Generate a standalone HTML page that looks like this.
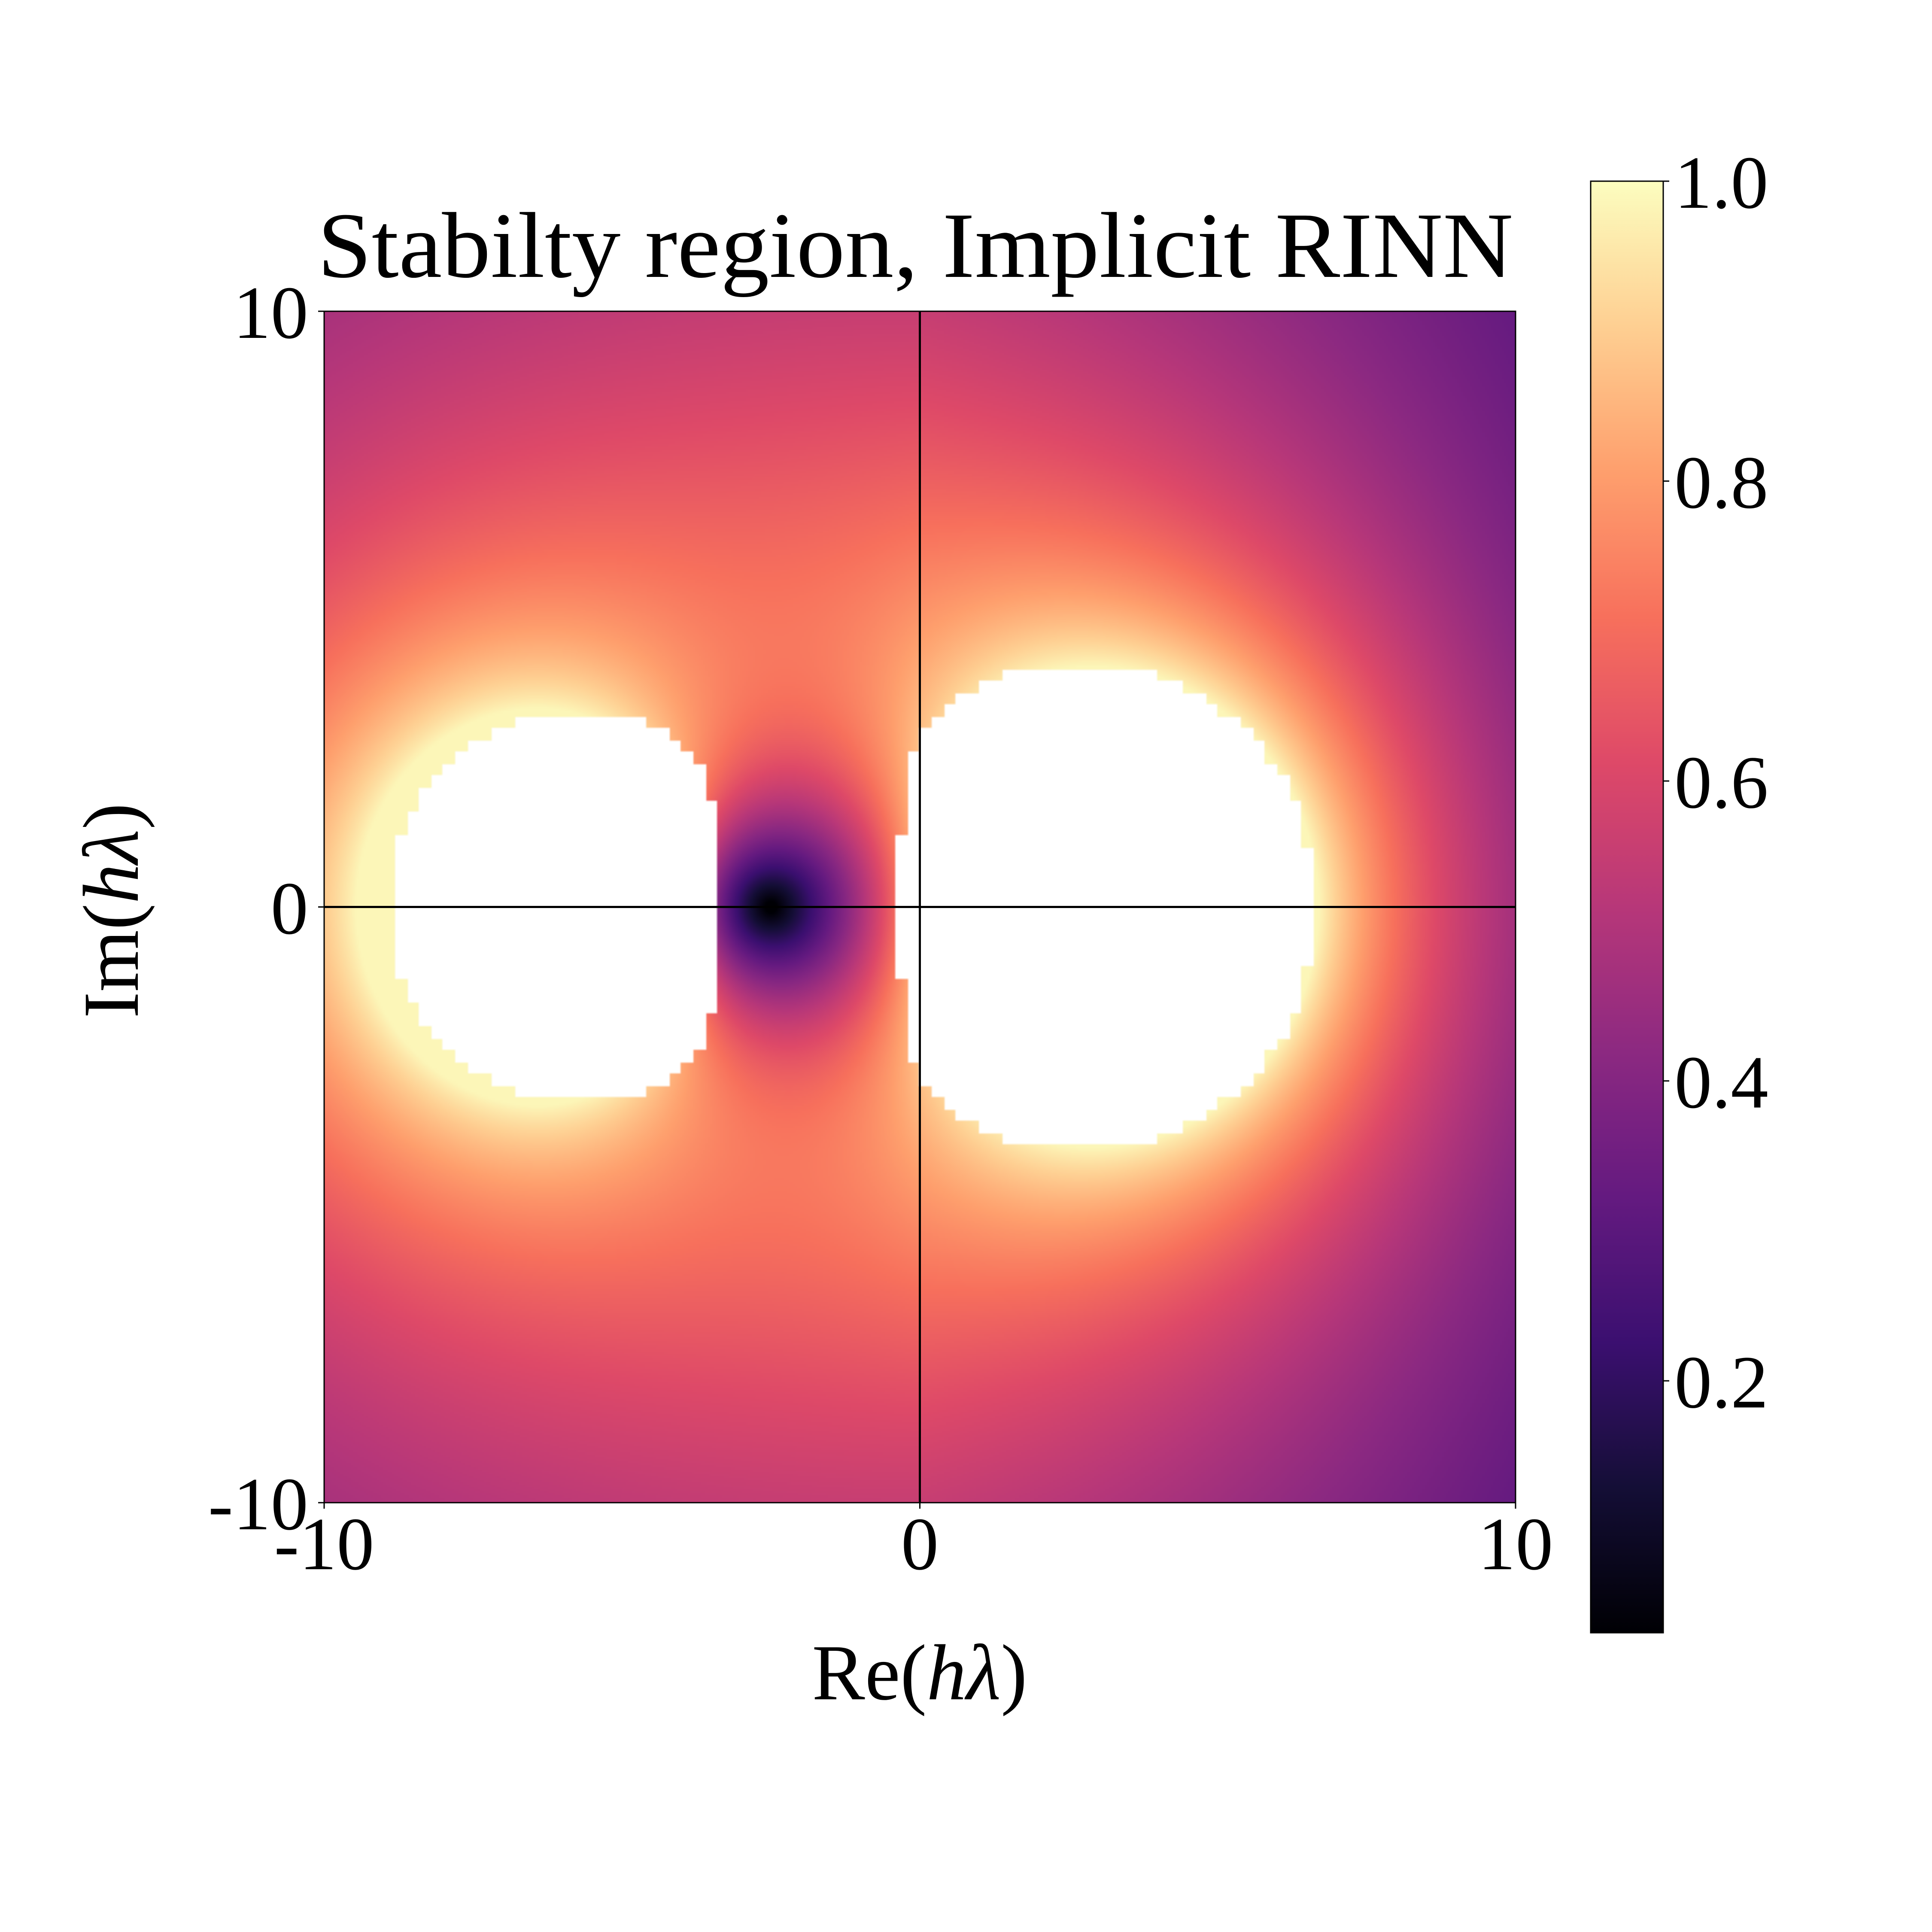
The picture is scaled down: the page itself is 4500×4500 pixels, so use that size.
<!DOCTYPE html>
<html><head><meta charset="utf-8"><style>
html,body{margin:0;padding:0;background:#fff;width:4500px;height:4500px;overflow:hidden}
#wrap{position:relative;width:4500px;height:4500px}
svg text{font-family:"Liberation Serif",serif;fill:#000}
#heat{position:absolute;left:755px;top:725px;width:2775px;height:2775px;image-rendering:auto}
#ov{position:absolute;left:0;top:0}
</style></head><body>
<div id="wrap">
<canvas id="heat" width="555" height="555"></canvas>
<svg id="ov" width="4500" height="4500">
<defs><linearGradient id="cbg" x1="0" y1="1" x2="0" y2="0"></linearGradient></defs>
<text x="2132" y="645" font-size="218" text-anchor="middle" textLength="2785" lengthAdjust="spacingAndGlyphs">Stabilty region, Implicit RINN</text>
<g id="axes"></g>
<text x="2142" y="3958" font-size="185" text-anchor="middle">Re(<tspan font-style="italic">hλ</tspan>)</text>
<text transform="translate(321,2121) rotate(-90)" font-size="185" text-anchor="middle">Im(<tspan font-style="italic">hλ</tspan>)</text>
<g id="cbar"></g>
</svg>
</div>
<script>
// ---- data ----
const xDomain = [-10, 10];
const yDomain = [-10, 10];
const gridStep = 0.2;
const xTicks = [-10, 0, 10];
const yTicks = [-10, 0, 10];
const xTickLabels = ["-10", "0", "10"];
const yTickLabels = ["-10", "0", "10"];
const cbTicks = [0.2, 0.4, 0.6, 0.8, 1.0];
const cbTickLabels = ["0.2", "0.4", "0.6", "0.8", "1.0"];
const cbRange = [0.032, 1.0];
// model of |R(z)|: zeros, poles, gain, left-half damping
const zeros = [[-2.5, 0], [30, 0]];
const poles = [[-5.7, 0], [3.1, 0]];
const gain = [0.205];
const leftDamping = [0.02];
// unstable (white) region: half-height per 0.2-wide column
const leftRegionStart = [-8.8];
const leftRegionHalfHeights = [1.2,1.6,2.0,2.2,2.4,2.6,2.8,2.8,3.0,3.0,3.2,3.2,3.2,3.2,3.2,3.2,3.2,3.2,3.2,3.2,3.2,3.0,3.0,2.8,2.6,2.4,1.8];
const rightRegionStart = [-0.4];
const rightRegionHalfHeights = [1.2,2.6,3.0,3.2,3.4,3.6,3.6,3.8,3.8,4.0,4.0,4.0,4.0,4.0,4.0,4.0,4.0,4.0,4.0,4.0,4.0,4.0,3.8,3.8,3.6,3.6,3.4,3.2,3.2,3.0,2.8,2.4,2.2,1.8,1.0];
const magmaStops = [0,0.1,0.2,0.3,0.4,0.5,0.6,0.7,0.8,0.9,1.0];
const magmaColors = ["#000004","#140e36","#3b0f70","#641a80","#8c2981","#b73779","#de4968","#f7705c","#fe9f6d","#fecf92","#fcfdbf"];

// ---- layout ----
const PX0 = 755, PX1 = 3530, PY0 = 725, PY1 = 3500;
const sx = v => PX0 + (v - xDomain[0]) / (xDomain[1] - xDomain[0]) * (PX1 - PX0);
const sy = v => PY1 - (v - yDomain[0]) / (yDomain[1] - yDomain[0]) * (PY1 - PY0);
const CBX0 = 3705, CBX1 = 3874, CBY0 = 422, CBY1 = 3803;
const cy = v => CBY1 - (v - cbRange[0]) / (cbRange[1] - cbRange[0]) * (CBY1 - CBY0);

function hex(c){return [parseInt(c.substr(1,2),16),parseInt(c.substr(3,2),16),parseInt(c.substr(5,2),16)];}
const mc = magmaColors.map(hex);
function magma(t){
  t = Math.max(0, Math.min(1, t));
  for (let i = 1; i < magmaStops.length; i++) {
    if (t <= magmaStops[i]) {
      const f = (t - magmaStops[i-1]) / (magmaStops[i] - magmaStops[i-1]);
      return mc[i-1].map((a, k) => Math.round(a + (mc[i][k] - a) * f));
    }
  }
  return mc[mc.length-1];
}
function absR(x, y){
  let v = gain[0] * Math.exp(leftDamping[0] * Math.min(x, 0));
  zeros.forEach(z => { v *= Math.hypot(x - z[0], y - z[1]); });
  poles.forEach(p => { v /= Math.hypot(x - p[0], y - p[1]); });
  return v;
}
function unstable(x, y){
  const regions = [[leftRegionStart[0], leftRegionHalfHeights],[rightRegionStart[0], rightRegionHalfHeights]];
  for (const [x0, hs] of regions) {
    const i = Math.floor((x - x0) / gridStep + 1e-9);
    if (i >= 0 && i < hs.length && Math.abs(y) < hs[i]) return true;
  }
  return false;
}

// ---- heatmap ----
const cv = document.getElementById('heat');
const ctx = cv.getContext('2d');
const N = cv.width;
const img = ctx.createImageData(N, N);
for (let j = 0; j < N; j++) {
  const y = yDomain[1] - (j + 0.5) / N * (yDomain[1] - yDomain[0]);
  for (let i = 0; i < N; i++) {
    const x = xDomain[0] + (i + 0.5) / N * (xDomain[1] - xDomain[0]);
    const k = (j * N + i) * 4;
    let c;
    if (unstable(x, y)) c = [255,255,255];
    else {
      const v = Math.min(absR(x, y), 0.985);
      c = magma((v - cbRange[0]) / (cbRange[1] - cbRange[0]));
    }
    img.data[k] = c[0]; img.data[k+1] = c[1]; img.data[k+2] = c[2]; img.data[k+3] = 255;
  }
}
ctx.putImageData(img, 0, 0);

// ---- axes ----
const NS = 'http://www.w3.org/2000/svg';
function mk(tag, attrs, parent, text){
  const e = document.createElementNS(NS, tag);
  for (const k in attrs) e.setAttribute(k, attrs[k]);
  if (text !== undefined) e.textContent = text;
  parent.appendChild(e);
  return e;
}
const ax = document.getElementById('axes');
let e;
e = mk('line', {x1: PX0, x2: PX1, y1: sy(0), y2: sy(0), stroke: '#000', 'stroke-width': 5}, ax);


e = mk('line', {x1: sx(0), x2: sx(0), y1: PY0, y2: PY1, stroke: '#000', 'stroke-width': 5}, ax);


e = mk('rect', {x: PX0, y: PY0, width: PX1 - PX0, height: PY1 - PY0, fill: 'none', stroke: '#000', 'stroke-width': 3}, ax);


xTicks.forEach((t, i) => {
  const l = mk('line', {x1: sx(t), x2: sx(t), y1: PY1, y2: PY1 + 14, stroke: '#000', 'stroke-width': 3}, ax);
  
  
  const tx = mk('text', {x: sx(t), y: PY1 + 155, 'font-size': 175, 'text-anchor': 'middle'}, ax, xTickLabels[i]);
  
  
});
yTicks.forEach((t, i) => {
  const l = mk('line', {x1: PX0 - 14, x2: PX0, y1: sy(t), y2: sy(t), stroke: '#000', 'stroke-width': 3}, ax);
  
  
  const tx = mk('text', {x: 718, y: sy(t) + 62, 'font-size': 175, 'text-anchor': 'end'}, ax, yTickLabels[i]);
  
  
});

// ---- colorbar ----
const grad = document.getElementById('cbg');
for (let s = 0; s <= 20; s++) {
  const t = s / 20;
  const c = magma(t);
  mk('stop', {offset: t, 'stop-color': 'rgb(' + c.join(',') + ')'}, grad);
}
const cb = document.getElementById('cbar');
e = mk('rect', {x: CBX0, y: CBY0, width: CBX1 - CBX0, height: CBY1 - CBY0, fill: 'url(#cbg)', stroke: '#000', 'stroke-width': 3}, cb);


cbTicks.forEach((t, i) => {
  const l = mk('line', {x1: CBX1, x2: CBX1 + 14, y1: cy(t), y2: cy(t), stroke: '#000', 'stroke-width': 3}, cb);
  
  
  const tx = mk('text', {x: 3900, y: cy(t) + 62, 'font-size': 175}, cb, cbTickLabels[i]);
  
  
});
</script>
</body></html>
